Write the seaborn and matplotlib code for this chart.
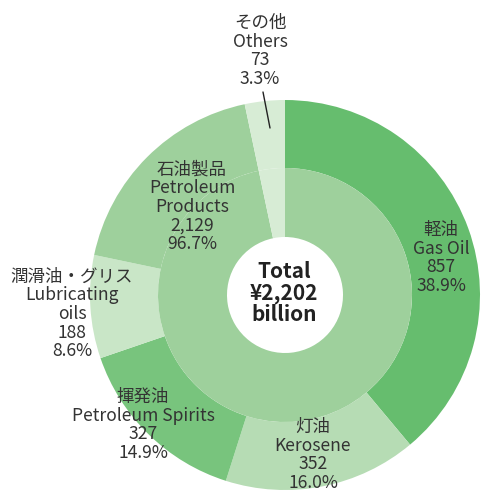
"""
Nested donut: sales breakdown (petroleum products vs others).
"""

import matplotlib
matplotlib.use("Agg")
import matplotlib.pyplot as plt
import seaborn as sns

# -------------------------------------
# Data (¥ billion)
# -------------------------------------
outer_names = ["Gas Oil", "Kerosene", "Petroleum Spirits", "Lubricating oils",
               "Other petroleum products", "Others"]
outer_values = [857, 352, 327, 188, 405, 73]
outer_colors = ["#66bd6e", "#b6dcb4", "#78c47d", "#c9e6c7", "#9ed09c", "#d7ecd5"]

inner_names = ["Petroleum Products", "Others"]
inner_values = [2129, 73]
inner_colors = ["#9ed09c", "#d7ecd5"]

label_texts = [
    "軽油\nGas Oil\n857\n38.9%",
    "灯油\nKerosene\n352\n16.0%",
    "揮発油\nPetroleum Spirits\n327\n14.9%",
    "潤滑油・グリス\nLubricating\noils\n188\n8.6%",
    "石油製品\nPetroleum\nProducts\n2,129\n96.7%",
    "その他\nOthers\n73\n3.3%",
]
center_text = "Total\n¥2,202\nbillion"

sns.set_theme(style="white")
plt.rcParams["font.family"] = ["Noto Sans CJK JP", "DejaVu Sans"]

# -------------------------------------
# Figure
# -------------------------------------
fig = plt.figure(figsize=(4.82, 4.93), dpi=100)
ax = fig.add_axes([0, 0, 1, 1])

R = 195.0          # outer radius in px
cx, cy = 285, 295  # centre in px


def px(x, y):
    return (x - cx) / R, (cy - y) / R


ax.pie(outer_values, colors=outer_colors, radius=1.0, startangle=90,
       counterclock=False, wedgeprops=dict(width=(195 - 127) / R, linewidth=0))
ax.pie(inner_values, colors=inner_colors, radius=127 / R, startangle=90,
       counterclock=False, wedgeprops=dict(width=(127 - 58) / R, linewidth=0))

ax.set_xlim(-cx / R, (482 - cx) / R)
ax.set_ylim((cy - 493) / R, cy / R)
ax.set_aspect("equal")
ax.axis("off")

# label centres (px)
label_pos = [(441, 258), (313, 455), (143, 425), (72, 314), (192, 207), (260, 51)]
for txt, (x, y) in zip(label_texts, label_pos):
    ax.text(*px(x, y), txt, ha="center", va="center", fontsize=12.6,
            color="#333333", linespacing=1.04)

ax.text(*px(284, 293), center_text, ha="center", va="center", fontsize=15,
        fontweight="bold", color="#222222", linespacing=1.0)

# leader line for "Others"
x0, y0 = px(263, 92)
x1, y1 = px(270, 128)
ax.plot([x0, x1], [y0, y1], color="#222222", lw=1)

fig.savefig("out.png", dpi=100)
